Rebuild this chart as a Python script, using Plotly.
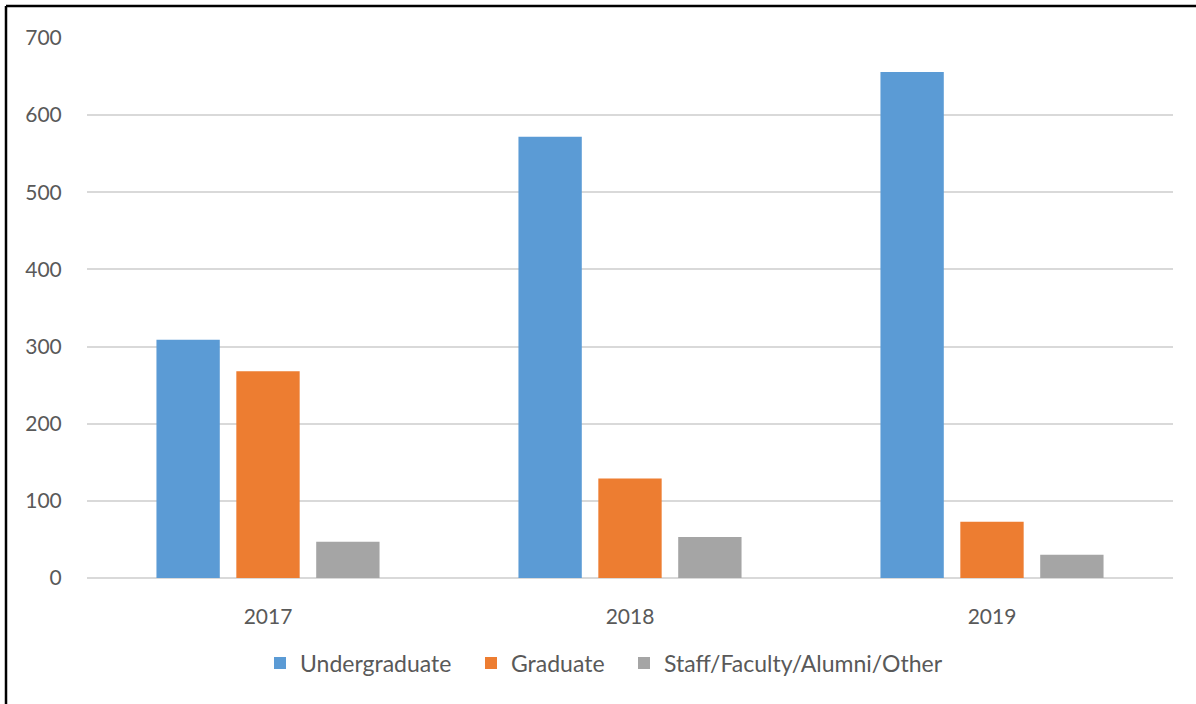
import plotly.graph_objects as go

years = ["2017", "2018", "2019"]
undergraduate = [309, 572, 656]
graduate = [268, 129, 73]
staff_other = [47, 53, 30]
series_names = ["Undergraduate", "Graduate", "Staff/Faculty/Alumni/Other"]
series_colors = ["#5B9BD5", "#ED7D31", "#A5A5A5"]
y_ticks = [0, 100, 200, 300, 400, 500, 600, 700]

FONT = "Lato"
GRAY = "#595959"

W, H = 1196, 704
L, R, T, B = 87, 23, 38, 126
pw, ph = W - L - R, H - T - B

legend_ids = ["legend", "legend2", "legend3"]
legend_text_px = [300, 511, 664]  # where each legend label starts

fig = go.Figure()
for name, vals, col, lid in zip(series_names, [undergraduate, graduate, staff_other],
                                series_colors, legend_ids):
    fig.add_trace(go.Bar(x=years, y=vals, name=name, legend=lid,
                         marker=dict(color=col, line=dict(width=0))))

legend_common = dict(orientation="h", xanchor="left", y=(0 - 85) / ph, yanchor="middle",
                     font=dict(family=FONT, size=23, color=GRAY), itemwidth=30,
                     bgcolor="rgba(0,0,0,0)")
legends = {}
for lid, tx in zip(legend_ids, legend_text_px):
    legends[lid] = dict(legend_common, x=(tx - 40 - L) / pw)

fig.update_layout(
    width=W, height=H,
    margin=dict(l=L, r=R, t=T, b=B, pad=0),
    paper_bgcolor="white", plot_bgcolor="white",
    barmode="group", bargap=0.338, bargroupgap=0.207,
    font=dict(family=FONT, size=21, color=GRAY),
    showlegend=True,
    xaxis=dict(showgrid=False, showline=False, zeroline=False,
               ticks="outside", ticklen=20, tickcolor="rgba(0,0,0,0)",
               tickfont=dict(family=FONT, size=21, color=GRAY)),
    yaxis=dict(range=[0, 700], tickvals=y_ticks, showgrid=True,
               gridcolor="#D9D9D9", gridwidth=2, zeroline=True,
               zerolinecolor="#D9D9D9", zerolinewidth=2, showline=False,
               ticks="outside", ticklen=20, tickcolor="rgba(0,0,0,0)",
               tickfont=dict(family=FONT, size=21, color=GRAY)),
    **legends,
)

# outer frame (left and top edges visible in the cropped image)
fx = (6 - L) / pw
fy = 1 + (T - 6) / ph
fig.add_shape(type="line", xref="paper", yref="paper", x0=fx, x1=fx, y0=fy, y1=-1,
              line=dict(color="black", width=2.5))
fig.add_shape(type="line", xref="paper", yref="paper", x0=fx, x1=2, y0=fy, y1=fy,
              line=dict(color="black", width=2.5))

fig.write_html("out.html", config={"displayModeBar": False},
               post_script="document.body.style.margin='0';document.body.style.overflow='hidden';")
